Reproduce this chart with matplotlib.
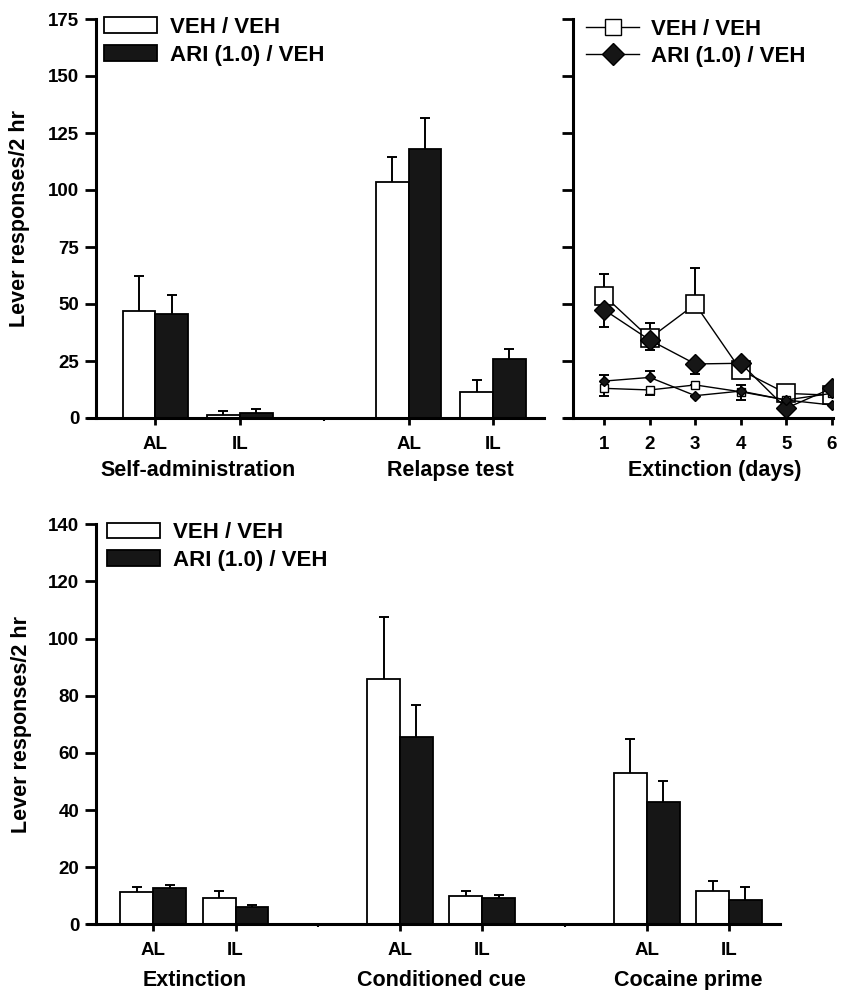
import matplotlib
matplotlib.use('Agg')
import matplotlib.pyplot as plt
import numpy as np
from matplotlib.patches import Patch
from matplotlib.lines import Line2D
import matplotlib.transforms as mtransforms

plt.rcParams['font.family'] = ['Liberation Sans', 'DejaVu Sans']
plt.rcParams['font.weight'] = 'bold'

# ---------------- data ----------------
series_labels = ['VEH / VEH', 'ARI (1.0) / VEH']
lever_labels = ['AL', 'IL']

# top-left panel: Self-administration (AL, IL), Relapse test (AL, IL)
top_groups = ['Self-administration', 'Relapse test']
top_veh = [47.0, 1.5, 103.5, 11.5]
top_veh_err = [15.3, 1.5, 11.1, 5.2]
top_ari = [45.7, 2.2, 118.0, 25.7]
top_ari_err = [8.3, 1.8, 13.4, 4.6]

# top-right panel: extinction days
days = [1, 2, 3, 4, 5, 6]
ext_veh_al = [53.6, 35.0, 49.9, 21.0, 10.8, 10.0]
ext_veh_al_err = [9.6, 6.8, 15.7, 0.0, 3.7, 0.0]
ext_ari_al = [47.4, 34.2, 23.7, 24.0, 4.3, 13.0]
ext_ari_al_err = [7.4, 4.2, 4.4, 0.0, 0.0, 0.0]
ext_veh_il = [13.0, 12.3, 14.5, 11.5, 7.9, 10.8]
ext_veh_il_err = [3.4, 2.3, 0.0, 3.5, 0.0, 0.0]
ext_ari_il = [16.2, 17.8, 9.8, 11.8, 7.9, 5.7]
ext_ari_il_err = [2.7, 2.8, 0.0, 2.5, 0.0, 0.0]

# bottom panel: Extinction, Conditioned cue, Cocaine prime (AL, IL each)
bot_groups = ['Extinction', 'Conditioned cue', 'Cocaine prime']
bot_veh = [11.2, 9.3, 85.7, 9.9, 52.8, 11.7]
bot_veh_err = [1.7, 2.5, 22.0, 1.6, 12.1, 3.6]
bot_ari = [12.6, 5.9, 65.4, 9.1, 42.7, 8.5]
bot_ari_err = [1.2, 1.0, 11.4, 1.3, 7.5, 4.7]

top_yticks = [0, 25, 50, 75, 100, 125, 150, 175]
bot_yticks = [0, 20, 40, 60, 80, 100, 120, 140]

# ---------------- style ----------------
W, H = 843, 990
fig = plt.figure(figsize=(W / 100, H / 100), dpi=100)
BLACK = '#161616'
SPINE_LW = 2.2
TICK_FS = 13.5
LAB_FS = 15.5
LEG_FS = 16


def fr(x0, y0, x1, y1):
    return [x0 / W, 1 - y1 / H, (x1 - x0) / W, (y1 - y0) / H]


def style_axes(ax, spine_x):
    for s in ['top', 'right']:
        ax.spines[s].set_visible(False)
    ax.spines['left'].set_position(('data', spine_x))
    ax.spines['left'].set_linewidth(SPINE_LW)
    ax.spines['bottom'].set_linewidth(SPINE_LW)
    ax.tick_params(axis='y', direction='out', length=8, width=2, labelsize=TICK_FS, pad=4)
    ax.tick_params(axis='x', direction='out', length=5, width=2, labelsize=TICK_FS, pad=8)
    ax.tick_params(axis='x', which='minor', length=2.5, width=1.5)


def upper_errors(ax, x, y, err):
    e = ax.errorbar(x, y, yerr=[np.zeros(len(err)), err], fmt='none', ecolor='k',
                    elinewidth=1.4, capsize=3.5, capthick=1.4, zorder=1)
    e[1][0].set_visible(False)


def lower_errors(ax, x, y, err):
    e = ax.errorbar(x, y, yerr=[err, np.zeros(len(err))], fmt='none', ecolor='k',
                    elinewidth=1.4, capsize=3.5, capthick=1.4, zorder=1)
    e[1][1].set_visible(False)


def bar_panel(ax, xpos, veh, veh_err, ari, ari_err, w):
    xpos = np.asarray(xpos, float)
    ax.bar(xpos - w / 2, veh, w, color='white', edgecolor='k', linewidth=1.3, zorder=2,
           label=series_labels[0])
    ax.bar(xpos + w / 2, ari, w, color=BLACK, edgecolor='k', linewidth=1.3, zorder=2,
           label=series_labels[1])
    upper_errors(ax, xpos - w / 2, veh, veh_err)
    upper_errors(ax, xpos + w / 2, ari, ari_err)


bar_handles = [Patch(facecolor='white', edgecolor='k', linewidth=1.3),
               Patch(facecolor=BLACK, edgecolor='k', linewidth=1.3)]
bar_leg_kw = dict(frameon=False, fontsize=LEG_FS, handlelength=2.39, handleheight=0.72,
                  handletextpad=0.58, labelspacing=0.3, borderpad=0, borderaxespad=0)

# ---------------- top-left ----------------
ax1 = fig.add_axes(fr(88, 19, 544, 418))
x1 = [0, 1, 3, 4]
bar_panel(ax1, x1, top_veh, top_veh_err, top_ari, top_ari_err, 0.39)
ax1.set_xlim(-0.80, 4.605)
ax1.set_ylim(0, 175)
style_axes(ax1, -0.707)
ax1.set_yticks(top_yticks)
ax1.set_xticks(x1)
ax1.set_xticklabels(lever_labels * 2)
ax1.set_xticks([2], minor=True)
ax1.set_ylabel('Lever responses/2 hr', fontsize=LAB_FS, fontweight='bold')
ax1.yaxis.set_label_coords(-0.128, 0.5)
tr1 = mtransforms.blended_transform_factory(ax1.transData, ax1.transAxes)
for gx, g in zip([0.5, 3.5], top_groups):
    ax1.text(gx, -0.132, g, transform=tr1, ha='center', va='center', fontsize=LAB_FS,
             fontweight='bold')
ax1.legend(bar_handles, series_labels, loc='upper left', bbox_to_anchor=(0.035, 1.005),
           **bar_leg_kw)

# ---------------- top-right ----------------
ax2 = fig.add_axes(fr(565, 19, 833, 418))
ax2.plot(days, ext_veh_al, color='k', lw=1.0, marker='s', ms=12.5, mfc='white', mec='k',
         mew=1.2, zorder=4)
ax2.plot(days, ext_ari_al, color='k', lw=1.0, marker='D', ms=10.5, mfc=BLACK, mec='k',
         zorder=5)
ax2.plot(days, ext_veh_il, color='k', lw=1.0, marker='s', ms=6, mfc='white', mec='k',
         mew=1.0, zorder=4)
ax2.plot(days, ext_ari_il, color='k', lw=1.0, marker='D', ms=5.5, mfc=BLACK, mec='k',
         zorder=5)
upper_errors(ax2, days, ext_veh_al, ext_veh_al_err)
lower_errors(ax2, days, ext_ari_al, ext_ari_al_err)
lower_errors(ax2, days, ext_veh_il, ext_veh_il_err)
upper_errors(ax2, days, ext_ari_il, ext_ari_il_err)
ax2.set_xlim(0.136, 6.03)
ax2.set_ylim(0, 175)
style_axes(ax2, 0.305)
ax2.set_yticks(top_yticks)
ax2.set_yticklabels([])
ax2.set_xticks(days)
ax2.text(0.558, -0.132, 'Extinction (days)', transform=ax2.transAxes, ha='center',
         va='center', fontsize=LAB_FS, fontweight='bold')
line_handles = [Line2D([], [], color='k', lw=1.0, marker='s', ms=11, mfc='white', mec='k'),
                Line2D([], [], color='k', lw=1.0, marker='D', ms=11.5, mfc=BLACK, mec='k')]
ax2.legend(line_handles, series_labels, loc='upper left', bbox_to_anchor=(0.08, 1.0),
           frameon=False, fontsize=LEG_FS, handlelength=2.35, handletextpad=0.55,
           labelspacing=0.25, borderpad=0, borderaxespad=0)

# ---------------- bottom ----------------
ax3 = fig.add_axes(fr(88, 524.3, 780, 924.3))
x3 = [0, 1, 3, 4, 6, 7]
bar_panel(ax3, x3, bot_veh, bot_veh_err, bot_ari, bot_ari_err, 0.40)
ax3.set_xlim(-0.794, 7.62)
ax3.set_ylim(0, 140)
style_axes(ax3, -0.697)
ax3.set_yticks(bot_yticks)
ax3.set_xticks(x3)
ax3.set_xticklabels(lever_labels * 3)
ax3.set_xticks([2, 5], minor=True)
ax3.set_ylabel('Lever responses/2 hr', fontsize=LAB_FS, fontweight='bold')
ax3.yaxis.set_label_coords(-0.081, 0.5)
tr3 = mtransforms.blended_transform_factory(ax3.transData, ax3.transAxes)
for gx, g in zip([0.5, 3.5, 6.5], bot_groups):
    ax3.text(gx, -0.140, g, transform=tr3, ha='center', va='center', fontsize=LAB_FS,
             fontweight='bold')
ax3.legend(bar_handles, series_labels, loc='upper left', bbox_to_anchor=(0.028, 1.005),
           **bar_leg_kw)

fig.savefig('out.png', dpi=100)
